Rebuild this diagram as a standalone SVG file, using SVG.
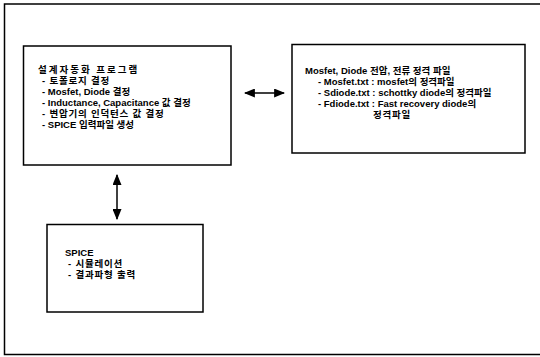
<svg xmlns="http://www.w3.org/2000/svg" width="540" height="357" viewBox="0 0 540 357">
<style>
.box{fill:#fff;stroke:#000;stroke-width:1.5}
.frame{fill:none;stroke:#000;stroke-width:1.5}
text{font-family:"Liberation Sans","Noto Sans CJK KR",sans-serif;font-size:9.5px;font-weight:bold;fill:#000}
.ko{letter-spacing:0.8px}
.con{stroke:#000;stroke-width:1.5;fill:none}
</style>
<defs>
<marker id="ah" viewBox="0 0 10 10" refX="9" refY="5" markerWidth="11" markerHeight="9" markerUnits="userSpaceOnUse" orient="auto-start-reverse" preserveAspectRatio="none">
<path d="M0,0 L10,5 L0,10 Z" fill="#000"/>
</marker>
</defs>
<rect width="540" height="357" fill="#fff"/>
<path class="frame" d="M540,4 H4.5 V354.5 H540"/>
<g id="connectors">
<line class="con" x1="245" y1="93" x2="284" y2="93" marker-start="url(#ah)" marker-end="url(#ah)"/>
<line class="con" x1="117" y1="175" x2="117" y2="219" marker-start="url(#ah)" marker-end="url(#ah)"/>
</g>
<g id="design-program">
<rect class="box" x="23.5" y="46" width="207.5" height="119"/>
<text x="38" y="73" letter-spacing="2">설계자동화 프로그램</text>
<text x="42" y="84" class="ko">- 토폴로지 결정</text>
<text x="42" y="95">- Mosfet, Diode 결정</text>
<text x="42" y="106">- Inductance, Capacitance 값 결정</text>
<text x="42" y="117" class="ko">- 변압기의 인덕턴스 값 결정</text>
<text x="42" y="128">- SPICE 입력파일 생성</text>
</g>
<g id="rating-files">
<rect class="box" x="292" y="44.5" width="233" height="108.5"/>
<text x="305" y="74">Mosfet, Diode 전압, 전류 정격 파일</text>
<text x="318" y="85">- Mosfet.txt : mosfet의 정격파일</text>
<text x="318" y="96">- Sdiode.txt : schottky diode의 정격파일</text>
<text x="318" y="107">- Fdiode.txt : Fast recovery diode의</text>
<text x="373" y="118" class="ko">정격파일</text>
</g>
<g id="spice">
<rect class="box" x="47" y="224.5" width="156" height="87.5"/>
<text x="65" y="256">SPICE</text>
<text x="68" y="267" class="ko">- 시뮬레이션</text>
<text x="68" y="278" class="ko">- 결과파형 출력</text>
</g>
</svg>
